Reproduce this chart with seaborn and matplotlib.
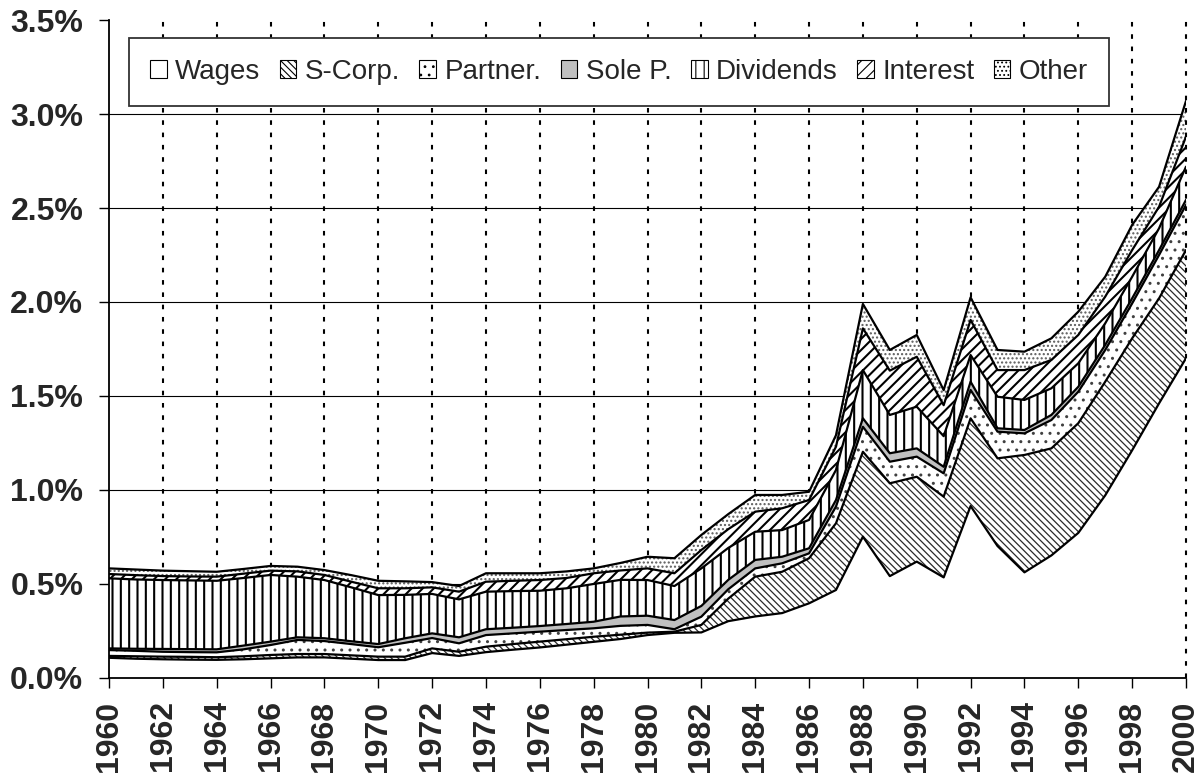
import numpy as np
import matplotlib
matplotlib.use("Agg")
import matplotlib.pyplot as plt
import seaborn as sns
from matplotlib.patches import Patch
from matplotlib.ticker import FuncFormatter

# ---------------- data (percent) ----------------
years = list(range(1960, 2001))

wages = [0.105, 0.100, 0.097, 0.095, 0.094, 0.097, 0.102, 0.107, 0.107, 0.100,
         0.093, 0.093, 0.130, 0.115, 0.135, 0.148, 0.160, 0.175, 0.190, 0.205,
         0.226, 0.238, 0.240, 0.300, 0.325, 0.343, 0.395, 0.466, 0.750, 0.540,
         0.617, 0.533, 0.913, 0.700, 0.560, 0.650, 0.770, 0.970, 1.210, 1.460,
         1.700]
scorp = [0.010, 0.013, 0.014, 0.015, 0.014, 0.016, 0.018, 0.018, 0.018, 0.018,
         0.018, 0.018, 0.025, 0.022, 0.029, 0.030, 0.031, 0.029, 0.027, 0.023,
         0.013, 0.006, 0.040, 0.120, 0.212, 0.220, 0.240, 0.355, 0.452, 0.494,
         0.452, 0.430, 0.467, 0.467, 0.625, 0.570, 0.584, 0.605, 0.596, 0.559,
         0.576]
partner = [0.031, 0.029, 0.026, 0.025, 0.026, 0.037, 0.053, 0.075, 0.069, 0.060,
           0.050, 0.074, 0.055, 0.045, 0.062, 0.057, 0.053, 0.049, 0.045, 0.047,
           0.041, 0.013, 0.044, 0.050, 0.044, 0.045, 0.026, 0.089, 0.133, 0.115,
           0.107, 0.124, 0.151, 0.142, 0.115, 0.151, 0.168, 0.169, 0.186, 0.231,
           0.240]
sole = [0.009, 0.011, 0.015, 0.016, 0.016, 0.020, 0.018, 0.014, 0.015, 0.015,
        0.017, 0.024, 0.025, 0.032, 0.031, 0.030, 0.030, 0.032, 0.035, 0.050,
        0.049, 0.049, 0.057, 0.050, 0.045, 0.035, 0.027, 0.035, 0.045, 0.045,
        0.044, 0.035, 0.044, 0.018, 0.018, 0.027, 0.026, 0.027, 0.027, 0.026,
        0.027]
dividends = [0.373, 0.369, 0.367, 0.366, 0.365, 0.360, 0.355, 0.323, 0.310, 0.287,
             0.261, 0.231, 0.210, 0.202, 0.200, 0.195, 0.188, 0.190, 0.201, 0.195,
             0.190, 0.181, 0.200, 0.170, 0.150, 0.142, 0.151, 0.160, 0.257, 0.204,
             0.222, 0.163, 0.142, 0.168, 0.160, 0.142, 0.125, 0.115, 0.115, 0.116,
             0.177]
interest = [0.023, 0.023, 0.021, 0.021, 0.022, 0.023, 0.023, 0.028, 0.027, 0.030,
            0.036, 0.035, 0.035, 0.041, 0.053, 0.055, 0.057, 0.055, 0.057, 0.050,
            0.062, 0.068, 0.098, 0.100, 0.107, 0.116, 0.106, 0.124, 0.222, 0.236,
            0.266, 0.165, 0.187, 0.142, 0.159, 0.151, 0.151, 0.142, 0.142, 0.115,
            0.160]
other = [0.030, 0.030, 0.029, 0.028, 0.026, 0.025, 0.025, 0.025, 0.026, 0.035,
         0.040, 0.037, 0.028, 0.030, 0.045, 0.040, 0.036, 0.035, 0.026, 0.040,
         0.062, 0.080, 0.080, 0.080, 0.089, 0.071, 0.044, 0.061, 0.130, 0.110,
         0.116, 0.080, 0.120, 0.107, 0.098, 0.115, 0.124, 0.106, 0.134, 0.106,
         0.190]

labels = ["Wages", "S-Corp.", "Partner.", "Sole P.", "Dividends", "Interest", "Other"]
series = [wages, scorp, partner, sole, dividends, interest, other]
x_ticks = list(range(1960, 2001, 2))
y_ticks = [0.0, 0.5, 1.0, 1.5, 2.0, 2.5, 3.0, 3.5]

# ---------------- style ----------------
sns.set_style("white")
plt.rcParams["font.family"] = ["Liberation Sans", "DejaVu Sans"]

# facecolor, hatch, hatch colour, hatch linewidth
styles = [
    ("white", None, "black", 1.0),
    ("white", "\\\\\\\\\\", "#2a2a2a", 0.9),
    ("white", "..", "#404040", 1.0),
    ("#c0c0c0", None, "black", 1.0),
    ("white", "||", "black", 1.5),
    ("white", "///", "black", 1.5),
    ("white", "....", "#5a5a5a", 1.0),
]

fig = plt.figure(figsize=(12.03, 7.76), dpi=100)
ax = fig.add_axes([109 / 1203, 1 - 677.5 / 776, 1077 / 1203, 657.3 / 776])

x = np.array(years)
base = np.zeros(len(years))
tops = []
for vals, (fc, hatch, hc, hlw) in zip(series, styles):
    top = base + np.array(vals)
    with plt.rc_context({"hatch.linewidth": hlw, "hatch.color": hc}):
        ax.fill_between(x, base, top, facecolor=fc, hatch=hatch,
                        edgecolor=hc, linewidth=0, zorder=2)
    tops.append(top)
    base = top

for top in tops:
    sns.lineplot(x=x, y=top, color="black", linewidth=1.6, ax=ax,
                 zorder=3, legend=False)

# grid lines
for yv in y_ticks[1:-1]:
    ax.axhline(yv, color="black", linewidth=0.8, zorder=1)
for xv in x_ticks[1:]:
    ax.axvline(xv, color="black", linewidth=1.5, linestyle=(0, (2.2, 3.7)),
               zorder=1 if xv < 2000 else 4, clip_on=False)

ax.set_xlim(1960, 2000)
ax.set_ylim(0, 3.5)
ax.set_xticks(x_ticks)
ax.set_yticks(y_ticks)
ax.yaxis.set_major_formatter(FuncFormatter(lambda v, p: f"{v:.1f}%"))
ax.tick_params(axis="both", which="major", direction="out", length=7.5,
               width=1.0, color="black", pad=11, labelsize=23,
               left=True, bottom=True)
ax.tick_params(axis="x", labelrotation=90, pad=9)
for lbl in ax.get_xticklabels() + ax.get_yticklabels():
    lbl.set_fontweight("bold")

for side in ["top", "right"]:
    ax.spines[side].set_visible(False)
for side in ["left", "bottom"]:
    ax.spines[side].set_color("black")
    ax.spines[side].set_linewidth(1.3)
ax.set_xlabel("")
ax.set_ylabel("")

# legend
with plt.rc_context({"hatch.linewidth": 0.8, "hatch.color": "black"}):
    handles = [Patch(facecolor=fc, hatch=hatch, edgecolor="black", linewidth=0.8)
               for (fc, hatch, hc, hlw) in styles]
    leg = ax.legend(handles, labels, ncol=7, loc="upper left",
                    bbox_to_anchor=(0.0186, 0.973), borderaxespad=0,
                    fontsize=20, handlelength=0.6, handleheight=0.6,
                    handletextpad=0.3, columnspacing=0.7, borderpad=0.75,
                    frameon=True, fancybox=False, framealpha=1,
                    edgecolor="#333333")
leg.get_frame().set_linewidth(1.3)
leg.set_zorder(5)

fig.savefig("out.png", dpi=100)
